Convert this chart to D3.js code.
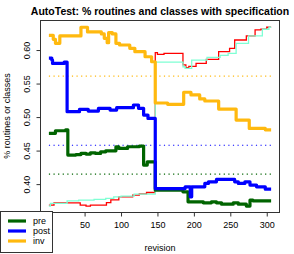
<!DOCTYPE html>
<html>
<head>
<meta charset="utf-8">
<script src="https://cdn.jsdelivr.net/npm/d3@7"></script>
<style>
  body { margin: 0; background: #fff; }
  text { font-family: "Liberation Sans", Arial, sans-serif; fill: #000; }
</style>
</head>
<body>
<div id="chart"></div>
<script>
// step series: [revision, share] at each change point, last point = end of data
var preSteps = [[1,0.4757],[10,0.4796],[24,0.481],[27,0.4433],[38,0.444],[45,0.4458],[52,0.4448],[58,0.4467],
  [65,0.4458],[72,0.4482],[79,0.4497],[93,0.4557],[97,0.4533],[109,0.4557],[125,0.4567],[131,0.4284],[136,0.4333],
  [147,0.391],[185,0.3885],[192,0.3736],[213,0.3721],[224,0.3736],[231,0.3721],[238,0.3701],[254,0.3721],
  [261,0.3701],[272,0.3672],[277,0.376],[281,0.3751],[306,0.3751]];
var postSteps = [[1,0.588],[5,0.585],[6,0.580],[22,0.582],[26,0.508],[43,0.5115],[55,0.509],[69,0.513],[85,0.5104],
  [94,0.514],[117,0.518],[124,0.513],[131,0.503],[137,0.498],[147,0.3933],[188,0.396],[195,0.381],[197,0.396],
  [215,0.401],[220,0.4034],[231,0.407],[256,0.4034],[261,0.401],[270,0.4034],[277,0.3985],[286,0.396],[298,0.3925],[306,0.3925]];
var invSteps = [[1,0.622],[7,0.616],[10,0.610],[16,0.621],[45,0.634],[54,0.627],[73,0.624],[77,0.6175],[81,0.611],
  [83,0.626],[88,0.624],[93,0.610],[98,0.6075],[112,0.6025],[119,0.5975],[133,0.590],[142,0.5825],[147,0.521],
  [164,0.519],[186,0.537],[196,0.533],[208,0.527],[215,0.524],[234,0.512],[258,0.4955],[276,0.483],[298,0.481],[306,0.481]];
var redSteps = [[1,0.3687],[8,0.3721],[44,0.3687],[52,0.3672],[58,0.3687],[80,0.3725],[86,0.3765],[97,0.381],
  [116,0.3835],[125,0.3855],[135,0.3875],[147,0.596],[150,0.5936],[159,0.595],[185,0.578],[189,0.5736],[193,0.5755],
  [203,0.580],[217,0.586],[234,0.5975],[249,0.6025],[256,0.615],[272,0.621],[284,0.630],[292,0.631],[300,0.634],[306,0.634]];
var aquaSteps = [[1,0.3672],[3,0.3712],[26,0.3751],[42,0.3761],[63,0.3772],[79,0.3787],[90,0.381],[100,0.3821],
  [118,0.3851],[147,0.582],[185,0.5751],[188,0.5727],[197,0.585],[218,0.589],[236,0.592],[247,0.595],[258,0.610],
  [275,0.621],[294,0.631],[303,0.634],[306,0.634]];

var legendNames = ["pre", "post", "inv"];
var legendColors = ["#006400", "#0000ff", "#ffb90f"];
var refLevels = [0.415, 0.458, 0.561];   // dotted lines, same order as legend
var xTicks = [50, 100, 150, 200, 250, 300];   // 0 sits under the legend
var yTicks = [0.40, 0.45, 0.50, 0.55, 0.60];

var width = 294, height = 254;
var plot = {left: 40, right: 280, top: 20, bottom: 212};

var svg = d3.select("#chart").append("svg")
    .attr("width", width)
    .attr("height", height);

var x = d3.scaleLinear().domain([-11.2, 318.2]).range([plot.left, plot.right]);
var y = d3.scaleLinear().domain([0.3584, 0.6448]).range([plot.bottom, plot.top]);

var line = d3.line()
    .x(function(d) { return x(d[0]); })
    .y(function(d) { return y(d[1]); })
    .curve(d3.curveStepAfter);

// reference levels
svg.selectAll(".ref").data(refLevels).enter().append("line")
    .attr("x1", x(1)).attr("x2", x(306))
    .attr("y1", function(d) { return y(d); })
    .attr("y2", function(d) { return y(d); })
    .attr("stroke", function(d, i) { return legendColors[i]; })
    .attr("stroke-width", 1.2)
    .attr("stroke-dasharray", "1.2,3.4");

// thin lines
[[redSteps, "#ff0000"], [aquaSteps, "#7fffd4"]].forEach(function(s) {
  svg.append("path").attr("d", line(s[0]))
      .attr("fill", "none").attr("stroke", s[1]).attr("stroke-width", 1.3);
});

// thick lines
[preSteps, postSteps, invSteps].forEach(function(s, i) {
  svg.append("path").attr("d", line(s))
      .attr("fill", "none").attr("stroke", legendColors[i])
      .attr("stroke-width", 3.2)
      .attr("stroke-linejoin", "round");
});

// box
svg.append("rect")
    .attr("x", plot.left + 0.5).attr("y", plot.top + 0.5)
    .attr("width", plot.right - plot.left - 1).attr("height", plot.bottom - plot.top)
    .attr("fill", "none").attr("stroke", "#333");

// axes
var bottomAxis = d3.axisBottom(x).tickValues(xTicks).tickSize(4).tickPadding(5).tickSizeOuter(0);
var gx = svg.append("g").attr("transform", "translate(0," + (plot.bottom + 0.5) + ")").call(bottomAxis);
gx.select(".domain").remove();
gx.selectAll("text").attr("font-size", "9px").attr("font-family", "Liberation Sans, Arial, sans-serif");

var leftAxis = d3.axisLeft(y).tickValues(yTicks).tickFormat(d3.format(".2f")).tickSize(4).tickSizeOuter(0);
var gy = svg.append("g").attr("transform", "translate(" + (plot.left + 0.5) + ",0)").call(leftAxis);
gy.select(".domain").remove();
gy.selectAll("text")
    .attr("font-size", "9px").attr("font-family", "Liberation Sans, Arial, sans-serif")
    .attr("text-anchor", "middle")
    .attr("x", 0).attr("y", 0).attr("dy", "0")
    .attr("transform", "translate(-11,0) rotate(-90)");
gx.selectAll("line").attr("stroke", "#333");
gy.selectAll("line").attr("stroke", "#333");

// titles
svg.append("text")
    .attr("x", 160).attr("y", 15)
    .attr("text-anchor", "middle")
    .attr("font-size", "10.5px").attr("font-weight", "bold")
    .text("AutoTest: % routines and classes with specification");

svg.append("text")
    .attr("x", 160).attr("y", 251)
    .attr("text-anchor", "middle")
    .attr("font-size", "9px")
    .text("revision");

svg.append("text")
    .attr("transform", "translate(10," + ((plot.top + plot.bottom) / 2) + ") rotate(-90)")
    .attr("text-anchor", "middle")
    .attr("font-size", "9px")
    .text("% routines or classes");

// legend
var lg = svg.append("g");
lg.append("rect")
    .attr("x", 0.5).attr("y", 211.5).attr("width", 52).attr("height", 41)
    .attr("fill", "#fff").attr("stroke", "#333");
legendNames.forEach(function(n, i) {
  var yy = 221 + i * 10;
  lg.append("line").attr("x1", 8).attr("x2", 26).attr("y1", yy).attr("y2", yy)
      .attr("stroke", legendColors[i]).attr("stroke-width", 3.2);
  lg.append("text").attr("x", 33).attr("y", yy + 3.2).attr("font-size", "9px").text(n);
});
</script>
</body>
</html>
